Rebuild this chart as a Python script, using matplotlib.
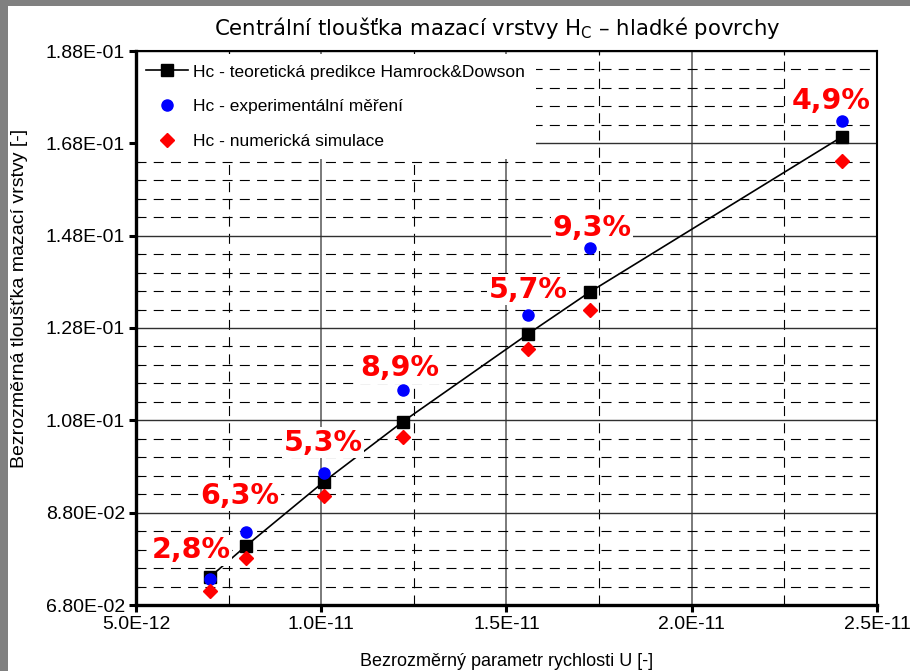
import matplotlib
matplotlib.use("Agg")
import matplotlib.pyplot as plt
from matplotlib.ticker import MultipleLocator, FixedLocator, FormatStrFormatter
from matplotlib.patches import Rectangle
from matplotlib.lines import Line2D

plt.rcParams['font.family'] = ['Liberation Sans', 'DejaVu Sans']
plt.rcParams['mathtext.default'] = 'regular'

# ---- data ----
U = [7.0e-12, 7.97e-12, 1.007e-11, 1.22e-11, 1.558e-11, 1.725e-11, 2.405e-11]
hc_theory = [0.0741, 0.0808, 0.0947, 0.1077, 0.1267, 0.1358, 0.1694]
hc_exp = [0.0736, 0.0838, 0.0966, 0.1146, 0.1308, 0.1454, 0.1729]
hc_num = [0.0710, 0.0782, 0.0916, 0.1044, 0.1235, 0.1319, 0.1642]
pct_labels = ['2,8%', '6,3%', '5,3%', '8,9%', '5,7%', '9,3%', '4,9%']

y_ticks = [0.068, 0.088, 0.108, 0.128, 0.148, 0.168, 0.188]
x_ticks = [5.0e-12, 1.0e-11, 1.5e-11, 2.0e-11, 2.5e-11]

series_names = ['Hc - teoretická predikce Hamrock&Dowson',
                'Hc - experimentální měření',
                'Hc - numerická simulace']
title = 'Centrální tloušťka mazací vrstvy H$_C$ – hladké povrchy'
xlabel = 'Bezrozměrný parametr rychlosti U [-]'
ylabel = 'Bezrozměrná tloušťka mazací vrstvy [-]'

# label offsets (points) relative to the experimental point (layout only)
label_offsets = [(-13.7, 15.0), (-4.3, 20.5), (-0.7, 16.0), (-2.0, 10.0),
                 (0.0, 12.5), (1.4, 8.5), (-8.0, 8.5)]

W, H = 910, 671
fig = plt.figure(figsize=(W / 100, H / 100), dpi=100, facecolor='#808080')
bg = Rectangle((8 / W, 0), 1 - 8 / W, 1 - 6 / H, transform=fig.transFigure,
               facecolor='white', edgecolor='none', zorder=-10)
fig.add_artist(bg)

left, right, top, bottom = 136, 877, 51, 605
ax = fig.add_axes([left / W, 1 - bottom / H, (right - left) / W, (bottom - top) / H])
ax.set_facecolor('white')

ax.set_xlim(5.0e-12, 2.5e-11)
ax.set_ylim(0.068, 0.188)
ax.xaxis.set_major_locator(FixedLocator(x_ticks))
ax.yaxis.set_major_locator(FixedLocator(y_ticks))
ax.xaxis.set_minor_locator(MultipleLocator(2.5e-12))
ax.yaxis.set_minor_locator(MultipleLocator(0.004))
ax.xaxis.set_major_formatter(FormatStrFormatter('%.1E'))
ax.yaxis.set_major_formatter(FormatStrFormatter('%.2E'))

ax.grid(which='major', axis='y', color='#303030', lw=1.0, ls='-', zorder=0)
ax.grid(which='major', axis='x', color='#707070', lw=1.3, ls='-', zorder=0)
ax.grid(which='minor', color='black', lw=0.8, ls=(0, (9, 6.5)), zorder=0)
ax.set_axisbelow(True)

for s in ['left', 'bottom']:
    ax.spines[s].set_linewidth(2.4)
for s in ['top', 'right']:
    ax.spines[s].set_linewidth(1.5)
for s in ax.spines.values():
    s.set_zorder(6)

ax.tick_params(which='major', direction='out', length=5, width=2.2,
               labelsize=14, pad=3, colors='black')
ax.tick_params(which='minor', direction='in', length=3, width=0.8,
               left=True, bottom=False, top=True)
ax.tick_params(which='major', top=False, right=False)

# line for theoretical prediction
ax.plot(U, hc_theory, color='black', lw=1.2, zorder=2)
ax.plot(U, hc_theory, ls='none', marker='s', ms=8.5, color='black', zorder=4)
ax.plot(U, hc_exp, ls='none', marker='o', ms=8, color='#0000ff', zorder=4)
ax.plot(U, hc_num, ls='none', marker='D', ms=7, color='#ff0000', zorder=4)

for x, y, lab, off in zip(U, hc_exp, pct_labels, label_offsets):
    ax.annotate(lab, (x, y), xytext=off, textcoords='offset points',
                ha='center', va='baseline', fontsize=20.5, fontweight='bold',
                family='DejaVu Sans', color='#ff0000', zorder=3,
                bbox=dict(facecolor='white', edgecolor='none', pad=1.2))

handles = [Line2D([], [], color='black', lw=1.2, marker='s', ms=8.5),
           Line2D([], [], ls='none', marker='o', ms=8, color='#0000ff'),
           Line2D([], [], ls='none', marker='D', ms=7, color='#ff0000')]
leg = ax.legend(handles, series_names, loc='upper left',
                bbox_to_anchor=(0, 1 - 3 / (bottom - top)),
                borderaxespad=0, borderpad=0.6, frameon=True, fancybox=False,
                facecolor='white', edgecolor='none', framealpha=1,
                fontsize=12.5, handlelength=2.4, handletextpad=0.3,
                labelspacing=1.12)
leg.set_zorder(5)

ax.set_xlabel(xlabel, fontsize=13)
ax.xaxis.set_label_coords(0.5, -(653 - bottom) / (bottom - top))
ax.set_ylabel(ylabel, fontsize=14)
ax.yaxis.set_label_coords(-(136 - 28) / (right - left), (bottom - 298) / (bottom - top))

fig.text(497 / W, 1 - 28 / H, title, ha='center', va='center',
         fontsize=15.3, family='DejaVu Sans')

fig.savefig('out.png', dpi=100, facecolor=fig.get_facecolor())
